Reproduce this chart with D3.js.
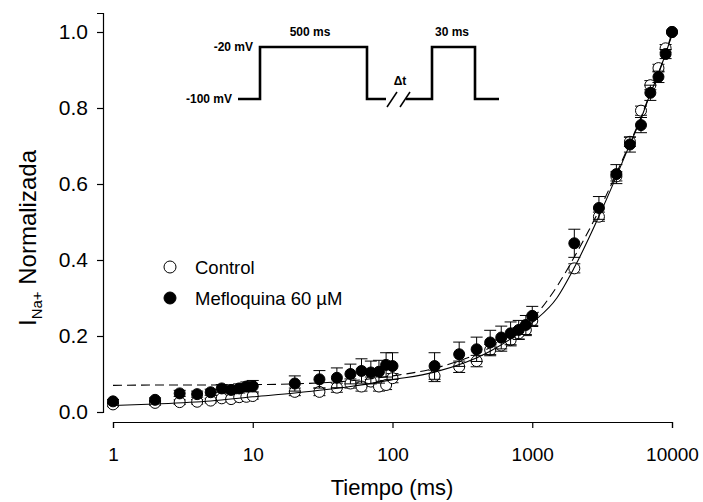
<!DOCTYPE html>
<html>
<head>
<meta charset="utf-8">
<script src="https://cdn.jsdelivr.net/npm/d3@7"></script>
<style>
  body { margin: 0; background: #fff; }
  svg { font-family: Arial, "Liberation Sans", sans-serif; }
</style>
</head>
<body>
<div id="vis"></div>
<script>
// recovery time points (ms)
const timeMs = [1, 2, 3, 4, 5, 6, 7, 8, 9, 10, 20, 30, 40, 50, 60, 70, 80, 90, 100,
    200, 300, 400, 500, 600, 700, 800, 900, 1000, 2000, 3000, 4000, 5000, 6000, 7000, 8000, 9000, 10000]

// normalized INa+ - control (open circles)
const control = [0.020, 0.024, 0.026, 0.027, 0.030, 0.036, 0.034, 0.039, 0.040, 0.042,
    0.053, 0.053, 0.064, 0.075, 0.067, 0.080, 0.067, 0.071, 0.089,
    0.095, 0.119, 0.134, 0.163, 0.175, 0.189, 0.207, 0.216, 0.240,
    0.378, 0.514, 0.620, 0.711, 0.793, 0.860, 0.905, 0.957, 1.000]
const controlErr = [0.006, 0.006, 0.006, 0.006, 0.006, 0.007, 0.007, 0.008, 0.008, 0.008,
    0.010, 0.010, 0.012, 0.012, 0.012, 0.012, 0.012, 0.012, 0.012,
    0.015, 0.015, 0.015, 0.015, 0.015, 0.015, 0.015, 0.015, 0.015,
    0.012, 0.012, 0.012, 0.012, 0.012, 0.012, 0.010, 0.010, 0]

// normalized INa+ - mefloquine 60 uM (filled circles)
const meflo = [0.028, 0.032, 0.049, 0.047, 0.052, 0.062, 0.058, 0.062, 0.067, 0.068,
    0.075, 0.086, 0.090, 0.100, 0.108, 0.104, 0.106, 0.124, 0.121,
    0.121, 0.152, 0.165, 0.183, 0.196, 0.207, 0.216, 0.229, 0.253,
    0.444, 0.537, 0.626, 0.704, 0.755, 0.840, 0.882, 0.942, 1.000]
const mefloErr = [0.005, 0.005, 0.008, 0.008, 0.008, 0.010, 0.010, 0.012, 0.012, 0.015,
    0.020, 0.023, 0.026, 0.026, 0.032, 0.030, 0.030, 0.032, 0.035,
    0.035, 0.032, 0.032, 0.032, 0.030, 0.030, 0.025, 0.025, 0.025,
    0.037, 0.030, 0.025, 0.020, 0.020, 0.020, 0.015, 0.012, 0]

// fitted curves
const fitX = [1, 2, 5, 10, 20, 50, 100, 200, 500, 1000, 1500, 2000, 3000, 4000, 5000, 6000, 7000, 8000, 9000, 10000]
const fitControl = [0.017, 0.021, 0.029, 0.040, 0.050, 0.067, 0.085, 0.105, 0.160, 0.235,
    0.300, 0.380, 0.515, 0.620, 0.705, 0.772, 0.838, 0.890, 0.943, 0.992]
const fitMeflo = [0.070, 0.071, 0.071, 0.072, 0.074, 0.082, 0.095, 0.115, 0.170, 0.245,
    0.330, 0.408, 0.530, 0.628, 0.708, 0.775, 0.840, 0.892, 0.945, 0.998]

const xTicks = [1, 10, 100, 1000, 10000]
const yTicks = [0, 0.2, 0.4, 0.6, 0.8, 1.0]

const width = 703
const height = 502

const svg = d3.select("#vis")
    .append("svg")
    .attr("width", width)
    .attr("height", height)

const x = d3.scaleLog()
    .domain([1, 10000])
    .range([113, 672])

const y = d3.scaleLinear()
    .domain([0, 1.05])
    .range([412, 13])

//axes
const xAxis = svg.append("g")
    .attr("transform", "translate(0,422)")
    .call(d3.axisBottom(x).tickValues(xTicks).tickFormat(d3.format("d"))
        .tickSizeOuter(0).tickSize(6).tickPadding(20))
const yAxis = svg.append("g")
    .attr("transform", "translate(103,0)")
    .call(d3.axisLeft(y).tickValues(yTicks).tickFormat(d3.format(".1f"))
        .tickSizeOuter(0).tickSize(6).tickPadding(9))

svg.selectAll(".tick text")
    .attr("font-family", "Arial, 'Liberation Sans', sans-serif")
    .attr("fill", "#000")
xAxis.selectAll(".tick text").attr("font-size", 19)
yAxis.selectAll(".tick text").attr("font-size", 21)

svg.selectAll(".domain, .tick line")
    .attr("stroke", "#000")
    .attr("stroke-width", 1.2)

//axis titles
svg.append("text")
    .attr("x", 392)
    .attr("y", 495)
    .attr("text-anchor", "middle")
    .attr("font-size", 22)
    .text("Tiempo (ms)")

const yLabel = svg.append("text")
    .attr("transform", "translate(36,238) rotate(-90)")
    .attr("text-anchor", "middle")
    .attr("font-size", 24)
yLabel.append("tspan").text("I")
yLabel.append("tspan").attr("font-size", 15).attr("dy", 6).text("Na+")
yLabel.append("tspan").attr("dy", -6).text(" Normalizada")

//error bars + symbols
function drawSeries(values, errs, fill, cls) {
    const g = svg.append("g").attr("class", cls)
    const bars = g.selectAll(".err")
        .data(timeMs.map((t, i) => ({ t: t, v: values[i], e: errs[i] })).filter(d => d.e > 0))
        .enter()
        .append("g")
    bars.append("line")
        .attr("x1", d => x(d.t)).attr("x2", d => x(d.t))
        .attr("y1", d => y(d.v - d.e)).attr("y2", d => y(d.v + d.e))
    bars.append("line")
        .attr("x1", d => x(d.t) - 6).attr("x2", d => x(d.t) + 6)
        .attr("y1", d => y(d.v + d.e)).attr("y2", d => y(d.v + d.e))
    bars.append("line")
        .attr("x1", d => x(d.t) - 6).attr("x2", d => x(d.t) + 6)
        .attr("y1", d => y(d.v - d.e)).attr("y2", d => y(d.v - d.e))
    bars.selectAll("line").attr("stroke", "#000").attr("stroke-width", 1)

    g.selectAll("circle")
        .data(timeMs.map((t, i) => ({ t: t, v: values[i] })))
        .enter()
        .append("circle")
        .attr("cx", d => x(d.t))
        .attr("cy", d => y(d.v))
        .attr("r", 5.5)
        .attr("fill", fill)
        .attr("stroke", "#000")
        .attr("stroke-width", 1)
}

drawSeries(control, controlErr, "#fff", "control")
drawSeries(meflo, mefloErr, "#000", "meflo")

//fit curves on top
const line = d3.line()
    .x(d => x(d[0]))
    .y(d => y(d[1]))
    .curve(d3.curveMonotoneX)

svg.append("path")
    .attr("d", line(fitX.map((t, i) => [t, fitControl[i]])))
    .attr("fill", "none")
    .attr("stroke", "#000")
    .attr("stroke-width", 1.1)

svg.append("path")
    .attr("d", line(fitX.map((t, i) => [t, fitMeflo[i]])))
    .attr("fill", "none")
    .attr("stroke", "#000")
    .attr("stroke-width", 1.1)
    .attr("stroke-dasharray", "9,5")

//legend
const legendItems = [
    { label: "Control", fill: "#fff" },
    { label: "Mefloquina 60 \u00b5M", fill: "#000" }
]
const lg = svg.selectAll(".legend")
    .data(legendItems)
    .enter()
    .append("g")
    .attr("class", "legend")
    .attr("transform", (d, i) => `translate(170,${267 + i * 31})`)
lg.append("circle")
    .attr("r", 6)
    .attr("fill", d => d.fill)
    .attr("stroke", "#000")
lg.append("text")
    .attr("x", 25)
    .attr("y", 7)
    .attr("font-size", 18.5)
    .text(d => d.label)

//voltage protocol inset
const proto = svg.append("g")
const protoPts = [[238, 99], [260, 99], [260, 47], [367, 47], [367, 99], [386, 99]]
const protoPts2 = [[406, 99], [432, 99], [432, 47], [475, 47], [475, 99], [499, 99]]
proto.selectAll(".seg")
    .data([protoPts, protoPts2])
    .enter()
    .append("path")
    .attr("d", d3.line())
    .attr("fill", "none")
    .attr("stroke", "#000")
    .attr("stroke-width", 2.6)
proto.selectAll(".slash")
    .data([387, 400])
    .enter()
    .append("line")
    .attr("x1", d => d).attr("y1", 107)
    .attr("x2", d => d + 10).attr("y2", 92)
    .attr("stroke", "#000")
    .attr("stroke-width", 1.5)

const protoText = [
    { x: 253, y: 51, t: "-20 mV", a: "end" },
    { x: 232, y: 103, t: "-100 mV", a: "end" },
    { x: 310, y: 36, t: "500 ms", a: "middle" },
    { x: 452, y: 36, t: "30 ms", a: "middle" },
    { x: 400, y: 85, t: "\u0394t", a: "middle" }
]
proto.selectAll(".lbl")
    .data(protoText)
    .enter()
    .append("text")
    .attr("x", d => d.x)
    .attr("y", d => d.y)
    .attr("text-anchor", d => d.a)
    .attr("font-size", 12)
    .attr("font-weight", "bold")
    .text(d => d.t)
</script>
</body>
</html>
